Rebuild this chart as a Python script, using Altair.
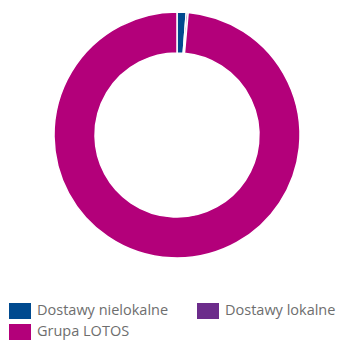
import altair as alt
import pandas as pd

categories = ["Dostawy nielokalne", "Dostawy lokalne", "Grupa LOTOS"]
values = [1.2, 0.25, 98.55]
colors = ["#004a8f", "#6c2c8b", "#b3007a"]
legend_order = ["Dostawy nielokalne", "Grupa LOTOS", "Dostawy lokalne"]

df = pd.DataFrame({"kat": categories, "val": values, "idx": list(range(len(categories)))})

chart = alt.Chart(df).mark_arc(
    outerRadius=123, innerRadius=82, stroke="white", strokeWidth=1.5
).encode(
    theta=alt.Theta("val:Q", stack=True),
    order=alt.Order("idx:O"),
    x=alt.value(169),
    y=alt.value(127),
    color=alt.Color(
        "kat:N",
        scale=alt.Scale(domain=categories, range=colors),
        legend=alt.Legend(
            title=None,
            orient="none",
            legendX=1,
            legendY=292,
            columns=2,
            values=legend_order,
            columnPadding=28,
            rowPadding=2,
            padding=0,
            symbolType="M-1,-0.727H1V0.727H-1Z",
            symbolSize=484,
            symbolStrokeWidth=0,
            symbolOpacity=1,
            labelFont="Open Sans",
            labelFontSize=14.5,
            labelColor="#6e6e6e",
            labelOffset=6,
            labelLimit=300,
        ),
    ),
).properties(
    width=331, height=333, autosize=alt.AutoSizeParams(type="none"), padding=0
).configure_view(stroke=None)

chart.save("out.html", embed_options={"renderer": "svg", "actions": False})
